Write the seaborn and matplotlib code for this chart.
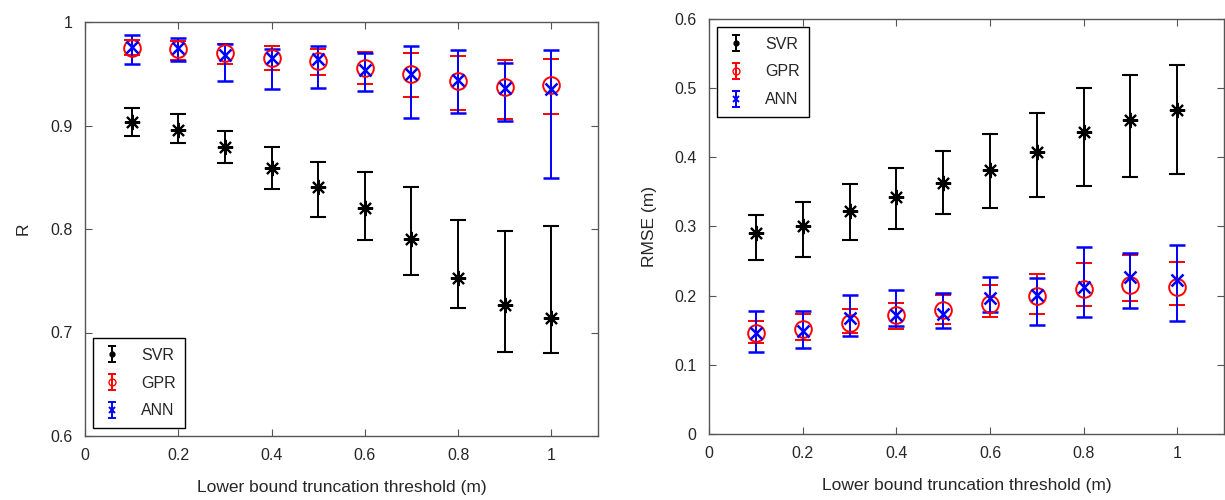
import numpy as np
import matplotlib
matplotlib.use("Agg")
import matplotlib.pyplot as plt
import seaborn as sns
from matplotlib.ticker import FuncFormatter

# ---------------------------------------------------------------
# data (means and lower / upper bar ends)
# ---------------------------------------------------------------
threshold = [0.1, 0.2, 0.3, 0.4, 0.5, 0.6, 0.7, 0.8, 0.9, 1.0]

# R
r_svr = [0.903, 0.896, 0.879, 0.859, 0.841, 0.820, 0.790, 0.753, 0.727, 0.714]
r_svr_lo = [0.890, 0.883, 0.864, 0.839, 0.812, 0.789, 0.756, 0.724, 0.681, 0.680]
r_svr_hi = [0.917, 0.911, 0.895, 0.879, 0.865, 0.855, 0.841, 0.809, 0.798, 0.803]

r_gpr = [0.975, 0.974, 0.970, 0.965, 0.962, 0.956, 0.950, 0.943, 0.937, 0.939]
r_gpr_lo = [0.968, 0.963, 0.959, 0.954, 0.949, 0.940, 0.928, 0.915, 0.906, 0.911]
r_gpr_hi = [0.983, 0.982, 0.979, 0.977, 0.974, 0.971, 0.970, 0.967, 0.963, 0.964]

r_ann = [0.976, 0.975, 0.968, 0.965, 0.964, 0.954, 0.950, 0.944, 0.936, 0.935]
r_ann_lo = [0.959, 0.962, 0.943, 0.935, 0.936, 0.933, 0.907, 0.912, 0.904, 0.849]
r_ann_hi = [0.987, 0.985, 0.979, 0.974, 0.977, 0.970, 0.977, 0.973, 0.960, 0.973]

# RMSE (m)
e_svr = [0.291, 0.300, 0.322, 0.343, 0.363, 0.381, 0.408, 0.436, 0.454, 0.468]
e_svr_lo = [0.251, 0.256, 0.281, 0.296, 0.318, 0.327, 0.343, 0.359, 0.372, 0.376]
e_svr_hi = [0.317, 0.335, 0.362, 0.384, 0.409, 0.434, 0.464, 0.500, 0.519, 0.534]

e_gpr = [0.146, 0.152, 0.160, 0.172, 0.180, 0.188, 0.199, 0.210, 0.216, 0.213]
e_gpr_lo = [0.132, 0.136, 0.146, 0.152, 0.159, 0.169, 0.174, 0.185, 0.193, 0.186]
e_gpr_hi = [0.164, 0.173, 0.181, 0.190, 0.201, 0.216, 0.232, 0.247, 0.259, 0.248]

e_ann = [0.146, 0.149, 0.168, 0.172, 0.173, 0.196, 0.201, 0.213, 0.227, 0.222]
e_ann_lo = [0.118, 0.124, 0.141, 0.156, 0.153, 0.177, 0.157, 0.169, 0.182, 0.164]
e_ann_hi = [0.178, 0.178, 0.201, 0.208, 0.204, 0.227, 0.226, 0.271, 0.262, 0.273]

# ---------------------------------------------------------------
sns.set_style("ticks")
plt.rcParams['font.family'] = ['Liberation Sans', 'DejaVu Sans']
plt.rcParams['xtick.direction'] = 'in'
plt.rcParams['ytick.direction'] = 'in'

# (8, 2, 0) -> eight-armed asterisk like MATLAB's '*'
STYLES = {
    'SVR': dict(color='black', marker=(8, 2, 0), ms=11, mew=1.5),
    'GPR': dict(color='red', marker='o', ms=12, mfc='none', mew=1.4),
    'ANN': dict(color='blue', marker='x', ms=8, mew=1.8),
}
LEG_MARK = {'SVR': dict(marker='.', ms=7), 'GPR': dict(marker='o', ms=5, mfc='none'),
            'ANN': dict(marker='x', ms=4, mew=1.4)}


def draw_panel(ax, series, ylim, yticks, ylabel, legend_loc):
    for name, (mean, lo, hi) in series.items():
        mean = np.array(mean)
        yerr = [mean - np.array(lo), np.array(hi) - mean]
        st = STYLES[name]
        ax.errorbar(threshold, mean, yerr=yerr, linestyle='none',
                    capsize=6, capthick=1.4, elinewidth=1.4, label='_nolegend_', **st)
        # legend proxy: small errorbar glyph, nothing drawn on the axes
        ax.errorbar([np.nan], [np.nan], yerr=[[np.nan], [np.nan]], linestyle='none',
                    color=st['color'], capsize=3, capthick=1.4, elinewidth=1.4,
                    label=name, **LEG_MARK[name])

    ax.set_xlim(0, 1.1)
    ax.set_ylim(*ylim)
    ax.set_xticks([0, 0.2, 0.4, 0.6, 0.8, 1.0])
    ax.set_yticks(yticks)
    ax.xaxis.set_major_formatter(FuncFormatter(lambda v, p: f'{v:g}'))
    ax.yaxis.set_major_formatter(FuncFormatter(lambda v, p: f'{v:g}'))
    ax.tick_params(which='both', top=True, right=True, length=5, width=0.8,
                   color='#555555', labelsize=11.5, pad=9)
    for sp in ax.spines.values():
        sp.set_color('#555555')
        sp.set_linewidth(1.0)
    ax.set_xlabel('Lower bound truncation threshold (m)', fontsize=12.5, labelpad=12)
    ax.set_ylabel(ylabel, fontsize=12.5, labelpad=14 if ylabel == 'R' else 12)

    leg = ax.legend(loc=legend_loc, fancybox=False, edgecolor='black',
                    framealpha=1, fontsize=11.5,
                    handlelength=1.2, handletextpad=1.2, borderpad=0.6,
                    labelspacing=0.8)
    leg.get_frame().set_linewidth(1.0)


fig = plt.figure(figsize=(12.25, 5), dpi=100)
ax1 = fig.add_axes([0.0694, 0.128, 0.4188, 0.828])
ax2 = fig.add_axes([0.5788, 0.132, 0.4205, 0.830])

draw_panel(ax1,
           {'SVR': (r_svr, r_svr_lo, r_svr_hi),
            'GPR': (r_gpr, r_gpr_lo, r_gpr_hi),
            'ANN': (r_ann, r_ann_lo, r_ann_hi)},
           (0.6, 1.0), [0.6, 0.7, 0.8, 0.9, 1.0], 'R', 'lower left')

draw_panel(ax2,
           {'SVR': (e_svr, e_svr_lo, e_svr_hi),
            'GPR': (e_gpr, e_gpr_lo, e_gpr_hi),
            'ANN': (e_ann, e_ann_lo, e_ann_hi)},
           (0, 0.6), [0, 0.1, 0.2, 0.3, 0.4, 0.5, 0.6], 'RMSE (m)', 'upper left')

fig.savefig('out.png', dpi=100)
